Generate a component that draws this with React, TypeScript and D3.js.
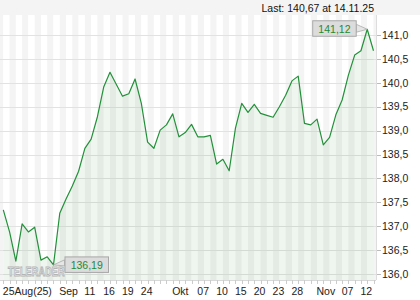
import React from "react";
import * as d3 from "d3";

const values: number[] = [
  137.34, 136.88, 136.27, 137.05, 136.88, 136.98, 136.29, 136.36, 136.19, 137.27,
  137.57, 137.84, 138.15, 138.63, 138.82, 139.29, 139.91, 140.22, 139.97, 139.72,
  139.77, 140.08, 139.57, 138.76, 138.63, 139.01, 139.12, 139.35, 138.87, 138.96,
  139.13, 138.87, 138.87, 138.9, 138.3, 138.4, 138.16, 139.05, 139.57, 139.38,
  139.55, 139.36, 139.32, 139.28, 139.5, 139.74, 140.04, 140.14, 139.15, 139.12,
  139.24, 138.7, 138.86, 139.33, 139.64, 140.16, 140.58, 140.67, 141.12, 140.67,
];

const xTickLabels: string[] = ["25Aug(25)", "Sep", "11", "16", "19", "24", "Okt", "07", "10", "15", "20", "23", "28", "Nov", "07", "12"];
const xTickIndex: number[] = [0, 9, 13, 16, 19, 22, 27, 31, 34, 37, 40, 43, 46, 50, 54, 57];
const yTicks: number[] = [136, 136.5, 137, 137.5, 138, 138.5, 139, 139.5, 140, 140.5, 141];

const headerText = "Last: 140,67 at 14.11.25";
const maxLabel = "141,12";
const minLabel = "136,19";
const maxIndex = 58;
const minIndex = 8;

const W = 420;
const H = 300;
const plotLeft = 0;
const plotRight = 376;
const plotTop = 15;
const plotBottom = 280;

const font = "'Liberation Sans', Arial, sans-serif";
const fmt = (v: number) => v.toFixed(1).replace(".", ",");

export default function App() {
  const x = d3.scaleLinear().domain([0, values.length - 1]).range([3.3, 373.5]);
  const y = d3.scaleLinear().domain([136, 141]).range([274, 35]);

  const line = d3.line<number>().x((_, i) => x(i)).y((d) => y(d));
  const area = d3.area<number>().x((_, i) => x(i)).y0(plotBottom).y1((d) => y(d));

  const stripes: { x0: number; x1: number; gray: boolean }[] = [];
  stripes.push({ x0: plotLeft, x1: x(0), gray: true });
  for (let i = 0; i < values.length - 1; i++) {
    stripes.push({ x0: x(i), x1: x(i + 1), gray: i % 2 === 1 });
  }
  stripes.push({ x0: x(values.length - 1), x1: plotRight, gray: true });

  const mx = x(maxIndex);
  const my = y(values[maxIndex]);
  const nx = x(minIndex);
  const ny = y(values[minIndex]);

  return (
    <svg width={W} height={H} style={{ display: "block", position: "absolute", left: 0, top: 0 }} fontFamily={font}>
      <rect x={0} y={0} width={W} height={H} fill="#ffffff" />
      <rect x={0} y={0} width={W} height={plotTop} fill="#f4f4f4" />
      {stripes.map((s, i) => (
        <rect key={i} x={s.x0} y={plotTop} width={s.x1 - s.x0} height={plotBottom - plotTop} fill={s.gray ? "#f4f4f4" : "#ffffff"} />
      ))}
      {yTicks.map((t) => (
        <g key={t}>
          <line x1={plotLeft} x2={plotRight} y1={Math.round(y(t)) + 0.5} y2={Math.round(y(t)) + 0.5} stroke="#e2e2e2" />
          <line x1={plotRight} x2={plotRight + 5} y1={Math.round(y(t)) + 0.5} y2={Math.round(y(t)) + 0.5} stroke="#bbbbbb" />
          <text x={plotRight + 6} y={y(t)} dy="0.36em" fontSize={10.5} fill="#222">{fmt(t)}</text>
        </g>
      ))}
      <path d={area(values) || ""} fill="rgba(40,120,40,0.075)" />
      <path d={line(values) || ""} fill="none" stroke="#23913a" strokeWidth={1.2} strokeLinejoin="round" />
      <line x1={plotRight + 0.5} x2={plotRight + 0.5} y1={plotTop} y2={plotBottom} stroke="#dddddd" />
      <line x1={plotLeft} x2={plotRight} y1={plotBottom + 0.5} y2={plotBottom + 0.5} stroke="#d8d8d8" />
      {values.map((_, i) => (
        <line key={i} x1={Math.round(x(i)) + 0.5} x2={Math.round(x(i)) + 0.5} y1={plotBottom} y2={plotBottom + 4} stroke="#cccccc" />
      ))}
      {xTickLabels.map((l, k) => (
        <text key={k} x={x(xTickIndex[k]) - 0.5} y={295} fontSize={10.5} fill="#222">{l}</text>
      ))}
      <text x={374} y={11.5} fontSize={10.5} fill="#111" textAnchor="end">{headerText}</text>

      <g transform="translate(8,276) scale(1,1.4)">
        <text x={0} y={0} fontSize={9} fontWeight="bold" fill="#ffffff" stroke="#b4b4b4" strokeWidth={0.7} letterSpacing={0.2}>TELERADER</text>
      </g>

      <path d={`M${mx - 11},${my - 5} L${mx},${my} L${mx - 11},${my + 3} Z`} fill="#e6e6e6" stroke="#aaaaaa" strokeWidth={0.8} />
      <rect x={mx - 54.5} y={my - 8.5} width={43.5} height={15.5} fill="#dcdcdc" stroke="#a8a8a8" />
      <text x={mx - 32.8} y={my + 3.3} fontSize={10.5} fill="#1f8a33" textAnchor="middle">{maxLabel}</text>

      <path d={`M${nx + 11},${ny - 5} L${nx},${ny} L${nx + 11},${ny + 1} Z`} fill="#e6e6e6" stroke="#aaaaaa" strokeWidth={0.8} />
      <rect x={nx + 11.5} y={ny - 8} width={43.5} height={15.5} fill="#dcdcdc" stroke="#a8a8a8" />
      <text x={nx + 33.2} y={ny + 3.8} fontSize={10.5} fill="#1f8a33" textAnchor="middle">{minLabel}</text>
    </svg>
  );
}
